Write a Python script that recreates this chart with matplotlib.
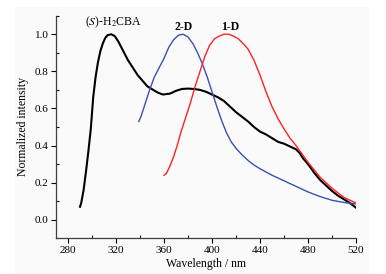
import matplotlib
matplotlib.use("Agg")
import matplotlib.pyplot as plt
from matplotlib.patches import Rectangle
from matplotlib.ticker import MultipleLocator

plt.rcParams['font.family'] = ['Liberation Serif', 'DejaVu Serif']
plt.rcParams['mathtext.fontset'] = 'stix'

# (S)-H2CBA
wl_h2cba = [290, 291, 293, 295, 297, 299, 301, 303, 305, 307, 309, 311, 313, 316, 319, 322, 326, 330,
            334, 338, 342, 346, 351, 355, 359, 365, 370, 375, 380, 385, 390, 395, 400, 405, 410, 415,
            420, 425, 430, 435, 440, 445, 450, 455, 460, 465, 470, 473, 476, 480, 485, 490, 495, 500,
            505, 510, 515, 520]
int_h2cba = [0.07, 0.09, 0.16, 0.26, 0.37, 0.49, 0.66, 0.77, 0.85, 0.91, 0.95, 0.98, 0.995, 1.00, 0.99,
             0.96, 0.91, 0.86, 0.82, 0.78, 0.75, 0.72, 0.70, 0.685, 0.675, 0.68, 0.695, 0.705, 0.707,
             0.705, 0.70, 0.69, 0.675, 0.66, 0.64, 0.61, 0.58, 0.555, 0.53, 0.50, 0.475, 0.46, 0.44,
             0.42, 0.41, 0.395, 0.38, 0.36, 0.33, 0.30, 0.255, 0.215, 0.185, 0.155, 0.13, 0.11, 0.09,
             0.065]

# 2-D
wl_2d = [339, 341, 344, 348, 352, 356, 360, 364, 368, 372, 376, 380, 384, 388, 392, 396, 400, 404,
         408, 412, 416, 420, 425, 430, 435, 440, 450, 460, 470, 480, 490, 500, 510, 520]
int_2d = [0.53, 0.56, 0.62, 0.70, 0.77, 0.82, 0.87, 0.93, 0.97, 0.995, 1.00, 0.985, 0.95, 0.90, 0.84,
          0.77, 0.69, 0.61, 0.535, 0.47, 0.42, 0.385, 0.35, 0.32, 0.295, 0.275, 0.24, 0.21, 0.18,
          0.15, 0.125, 0.105, 0.093, 0.085]

# 1-D
wl_1d = [360, 362, 365, 368, 371, 374, 378, 382, 386, 390, 394, 398, 402, 406, 410, 414, 418, 422,
         426, 430, 435, 440, 445, 450, 455, 460, 465, 470, 475, 480, 485, 490, 495, 500, 505, 510, 515, 520]
int_1d = [0.24, 0.25, 0.29, 0.34, 0.40, 0.47, 0.55, 0.63, 0.72, 0.80, 0.88, 0.94, 0.975, 0.99, 1.00,
          1.00, 0.99, 0.975, 0.95, 0.92, 0.86, 0.78, 0.69, 0.61, 0.545, 0.49, 0.44, 0.40, 0.355,
          0.31, 0.27, 0.23, 0.20, 0.17, 0.145, 0.12, 0.105, 0.09]

x_ticks = [280, 320, 360, 400, 440, 480, 520]
y_ticks = [0.0, 0.2, 0.4, 0.6, 0.8, 1.0]

fig = plt.figure(figsize=(3.86, 2.74), dpi=100)
bg = Rectangle((15/386, 0), (369-15)/386, 1 - 7/274, transform=fig.transFigure,
               facecolor='#fafafa', edgecolor='none', zorder=-10)
fig.patches.append(bg)
ax = fig.add_axes([56/386, 1 - 238.3/274, 300/386, (238.3 - 15.7)/274])
ax.set_zorder(5)
ax.set_facecolor('none')

ax.plot(wl_h2cba, int_h2cba, color='black', lw=1.5)
ax.plot(wl_2d, int_2d, color='#3c4fb4', lw=1.0)
ax.plot(wl_1d, int_1d, color='#ff2020', lw=1.0)

ax.set_xlim(270, 520)
ax.set_ylim(-0.1, 1.1)
ax.set_xticks(x_ticks)
ax.set_yticks(y_ticks)
ax.set_yticklabels([f"{v:.1f}" for v in y_ticks])
ax.xaxis.set_minor_locator(MultipleLocator(20))
ax.yaxis.set_minor_locator(MultipleLocator(0.1))
ax.tick_params(axis='both', which='major', direction='out', length=3.5, width=0.8, labelsize=8, pad=2)
ax.tick_params(axis='both', which='minor', direction='in', length=2, width=0.8)
for s in ['top', 'right']:
    ax.spines[s].set_visible(False)
for s in ['left', 'bottom']:
    ax.spines[s].set_color('#404040')
    ax.spines[s].set_linewidth(0.9)

ax.set_xlabel('Wavelength / nm', fontsize=8.5, labelpad=2)
ax.set_ylabel('Normalized intensity', fontsize=8.5, labelpad=4)

ax.text(318, 1.065, r'($\it{S}$)-H$_2$CBA', fontsize=8.5, ha='center', va='center')
ax.text(376, 1.04, '2-D', fontsize=8.5, fontweight='bold', ha='center', va='center')
ax.text(415, 1.04, '1-D', fontsize=8.5, fontweight='bold', ha='center', va='center')

fig.savefig('out.png', dpi=100)
